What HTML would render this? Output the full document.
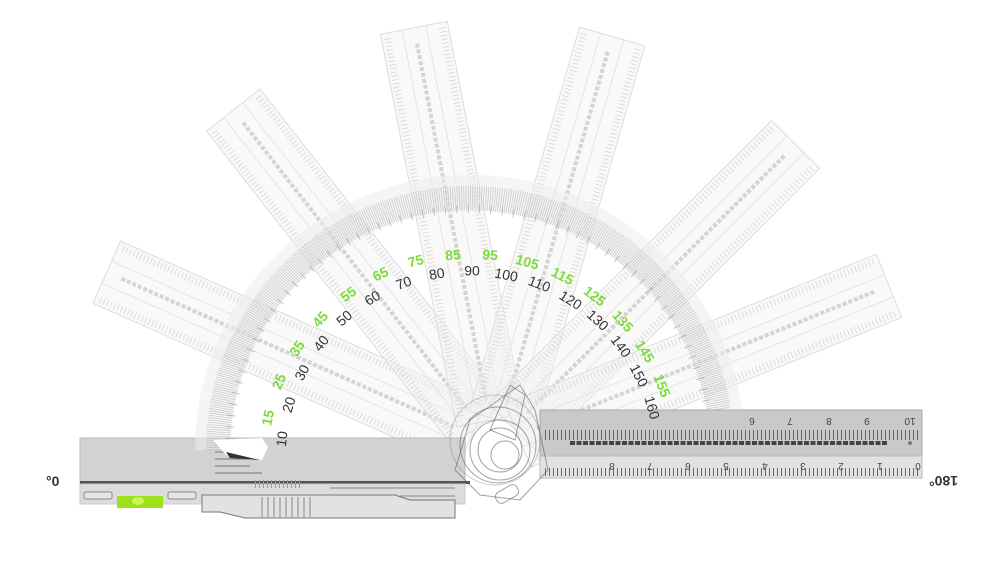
<!DOCTYPE html>
<html><head><meta charset="utf-8"><style>
html,body{margin:0;padding:0;background:#fff;width:1000px;height:562px;overflow:hidden}
svg{display:block}
text{font-family:"Liberation Sans",sans-serif}
</style></head><body>
<svg width="1000" height="562" viewBox="0 0 1000 562">
<defs>
<g id="ruler">
  <rect x="25" y="-34" width="400" height="68" fill="#f0f0f0" fill-opacity="0.45" stroke="#d6d6d6" stroke-width="1"/>
  <line x1="35" y1="-28" x2="420" y2="-28" stroke="#cfcfcf" stroke-width="7" stroke-dasharray="0.8 3"/>
  <line x1="35" y1="28" x2="420" y2="28" stroke="#cfcfcf" stroke-width="7" stroke-dasharray="0.8 3"/>
  <line x1="45" y1="0" x2="410" y2="0" stroke="#cdcdcd" stroke-width="4" stroke-dasharray="4 2"/>
  <line x1="25" y1="-12" x2="425" y2="-12" stroke="#e0e0e0" stroke-width="1"/>
  <line x1="25" y1="12" x2="425" y2="12" stroke="#e0e0e0" stroke-width="1"/>
</g>
</defs>
<g opacity="0.85">
<use href="#ruler" transform="translate(495,445) rotate(-156)"/>
<use href="#ruler" transform="translate(495,445) rotate(-128)"/>
<use href="#ruler" transform="translate(495,445) rotate(-101)"/>
<use href="#ruler" transform="translate(495,445) rotate(-74)"/>
<use href="#ruler" transform="translate(495,445) rotate(-45)"/>
<use href="#ruler" transform="translate(495,445) rotate(-22)"/>
</g>
<!-- body -->
<rect x="80" y="438" width="385" height="44" fill="#d2d2d2" stroke="#bbb"/>
<rect x="80" y="481" width="390" height="3" fill="#555"/>
<rect x="80" y="484" width="385" height="20" fill="#dcdcdc" stroke="#ccc"/>
<g stroke="#777" stroke-width="1"><line x1="215" y1="445" x2="245" y2="445"/><line x1="215" y1="452" x2="245" y2="452"/><line x1="215" y1="459" x2="250" y2="459"/><line x1="215" y1="466" x2="250" y2="466"/><line x1="215" y1="473" x2="262" y2="473"/></g>
<rect x="84" y="492" width="28" height="7" rx="2" fill="#e6e6e6" stroke="#888"/>
<rect x="168" y="492" width="28" height="7" rx="2" fill="#e6e6e6" stroke="#888"/>
<rect x="117" y="496" width="46" height="12" fill="#9be21c"/>
<ellipse cx="138" cy="501" rx="6" ry="4" fill="#c7f55a"/>
<line x1="255" y1="484" x2="300" y2="484" stroke="#999" stroke-width="8" stroke-dasharray="1 3"/>
<!-- protractor arc -->
<path d="M 213 450 A 257 257 0 0 1 727 450" fill="none" stroke="#ececec" stroke-opacity="0.55" stroke-width="36"/>
<path d="M 218 450 A 252 252 0 0 1 722 450" fill="none" stroke="#a8a8a8" stroke-opacity="0.6" stroke-width="24" stroke-dasharray="0.7 1.5"/>
<path d="M 229 450 A 241 241 0 0 1 711 450" fill="none" stroke="#888" stroke-opacity="0.6" stroke-width="8" stroke-dasharray="0.8 10.6"/>
<path d="M213 440 L226 455 L262 460 L268 447 L262 438 Z" fill="#fff"/>
<path d="M226 452 L260 460 L230 458 Z" fill="#333"/>
<!-- pen -->
<path d="M202 495 L395 495 L410 500 L455 500 L455 518 L245 518 L220 512 L202 512 Z" fill="#e2e2e2" stroke="#777"/>
<g stroke="#888"><line x1="262" y1="497" x2="262" y2="517"/><line x1="268" y1="497" x2="268" y2="517"/><line x1="274" y1="497" x2="274" y2="517"/><line x1="280" y1="497" x2="280" y2="517"/><line x1="286" y1="497" x2="286" y2="517"/><line x1="292" y1="497" x2="292" y2="517"/><line x1="298" y1="497" x2="298" y2="517"/><line x1="304" y1="497" x2="304" y2="517"/><line x1="310" y1="497" x2="310" y2="517"/><line x1="330" y1="488" x2="455" y2="488"/><line x1="400" y1="496" x2="455" y2="496"/></g>
<!-- horizontal ruler -->
<rect x="540" y="410" width="382" height="46" fill="#c9c9c9" stroke="#aaa"/>
<rect x="540" y="456" width="382" height="22" fill="#e2e2e2" stroke="#bbb"/>
<line x1="545" y1="435" x2="920" y2="435" stroke="#666" stroke-width="10" stroke-dasharray="1 3"/>
<line x1="545" y1="472" x2="920" y2="472" stroke="#666" stroke-width="8" stroke-dasharray="1 3"/>
<line x1="570" y1="443" x2="888" y2="443" stroke="#444" stroke-width="4" stroke-dasharray="5 1.5"/>
<circle cx="910" cy="443" r="2" fill="#777"/>
<g font-size="10" fill="#444" text-anchor="middle">
<text transform="translate(910,418) rotate(180)">10</text><text transform="translate(867,418) rotate(180)">9</text><text transform="translate(829,418) rotate(180)">8</text><text transform="translate(790,418) rotate(180)">7</text><text transform="translate(752,418) rotate(180)">6</text>
<text transform="translate(918,463) rotate(180)">0</text><text transform="translate(880,463) rotate(180)">1</text><text transform="translate(841,463) rotate(180)">2</text><text transform="translate(803,463) rotate(180)">3</text><text transform="translate(765,463) rotate(180)">4</text><text transform="translate(726,463) rotate(180)">5</text><text transform="translate(688,463) rotate(180)">6</text><text transform="translate(650,463) rotate(180)">7</text><text transform="translate(612,463) rotate(180)">8</text>
</g>
<!-- pivot mechanism -->
<g fill="none" stroke="#555" stroke-opacity="0.55" stroke-width="1">
<circle cx="500" cy="450" r="30"/><circle cx="500" cy="450" r="22"/><circle cx="505" cy="455" r="14"/><circle cx="498" cy="445" r="38"/><circle cx="495" cy="440" r="45" stroke-opacity="0.3"/>
<path d="M470 420 L520 385 L535 410 L548 470 L520 500 L480 495 L455 470 Z"/>
<path d="M510 385 L525 395 L515 440 L490 430 Z"/>
<rect x="495" y="488" width="24" height="12" rx="5" transform="rotate(-30 507 494)"/>
</g>
<!-- labels black -->
<g font-size="14" fill="#333" text-anchor="middle" dominant-baseline="middle">
<text transform="translate(283,439) rotate(-83)">10</text>
<text transform="translate(290,405) rotate(-73)">20</text>
<text transform="translate(303,373) rotate(-62)">30</text>
<text transform="translate(322,344) rotate(-52)">40</text>
<text transform="translate(345,319) rotate(-41)">50</text>
<text transform="translate(373,299) rotate(-31)">60</text>
<text transform="translate(404,284) rotate(-20)">70</text>
<text transform="translate(437,275) rotate(-10)">80</text>
<text transform="translate(472,272)">90</text>
<text transform="translate(506,276) rotate(11)">100</text>
<text transform="translate(539,285) rotate(21)">110</text>
<text transform="translate(570,301) rotate(32)">120</text>
<text transform="translate(597,321) rotate(42)">130</text>
<text transform="translate(620,347) rotate(53)">140</text>
<text transform="translate(638,376) rotate(63)">150</text>
<text transform="translate(651,408) rotate(74)">160</text>
</g>
<g font-size="14" fill="#7ddc3a" font-weight="bold" text-anchor="middle" dominant-baseline="middle">
<text transform="translate(269,418) rotate(-78)">15</text>
<text transform="translate(280,382) rotate(-68)">25</text>
<text transform="translate(298,349) rotate(-57)">35</text>
<text transform="translate(321,320) rotate(-47)">45</text>
<text transform="translate(349,295) rotate(-36)">55</text>
<text transform="translate(381,275) rotate(-26)">65</text>
<text transform="translate(416,262) rotate(-15)">75</text>
<text transform="translate(453,256) rotate(-5)">85</text>
<text transform="translate(490,256) rotate(6)">95</text>
<text transform="translate(527,263) rotate(16)">105</text>
<text transform="translate(562,277) rotate(27)">115</text>
<text transform="translate(594,297) rotate(37)">125</text>
<text transform="translate(622,322) rotate(48)">135</text>
<text transform="translate(644,352) rotate(58)">145</text>
<text transform="translate(661,386) rotate(69)">155</text>
</g>
<text x="46" y="486" font-size="14" fill="#333" font-weight="bold">°0</text>
<text transform="translate(958,476) rotate(180)" font-size="14" fill="#333" font-weight="bold">180°</text>
</svg>
</body></html>
